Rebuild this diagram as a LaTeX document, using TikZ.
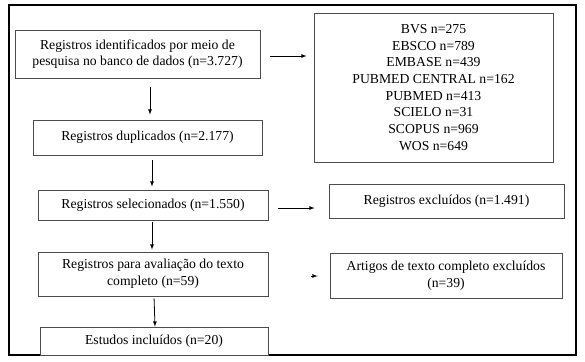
\documentclass[tikz,border=0pt]{standalone}
\usepackage{fontspec}
\setmainfont{Liberation Serif}
\usetikzlibrary{arrows}

\begin{document}
\begin{tikzpicture}[x=1pt,y=-1pt,>=latex,
	box/.style={draw=black!70,line width=0.8pt,fill=white,align=center,inner sep=2pt,font=\fontsize{13.7}{16.7}\selectfont}]
		% Frame
		\useasboundingbox (0,0) rectangle (585,361);
		\draw[line width=1.8pt] (9,5) rectangle (576,355);

		% Main column
		\node[box,minimum width=245pt,minimum height=48pt] (ident) at (137.5,54) {Registros identificados por meio de\\pesquisa no banco de dados (n=3.727)};
		\node[box,minimum width=229pt,minimum height=35pt] (dup) at (147.5,137.5) {Registros duplicados (n=2.177)};
		\node[box,minimum width=230pt,minimum height=30pt] (sel) at (153,205) {Registros selecionados (n=1.550)};
		\node[box,minimum width=230pt,minimum height=44pt] (aval) at (153,274) {Registros para avaliação do texto\\completo (n=59)};
		\node[box,minimum width=228pt,minimum height=28pt] (incl) at (154,341) {Estudos incluídos (n=20)};

		% Right column
		\node[box,minimum width=239pt,minimum height=149pt] (bases) at (433.5,87.5) {BVS n=275\\EBSCO n=789\\EMBASE n=439\\PUBMED CENTRAL n=162\\PUBMED n=413\\SCIELO n=31\\SCOPUS n=969\\WOS n=649};
		\node[box,minimum width=235pt,minimum height=34pt] (excl) at (446.5,201) {Registros excluídos (n=1.491)};
		\node[box,minimum width=232pt,minimum height=45pt] (artexcl) at (446,275.5) {Artigos de texto completo excluídos\\(n=39)};

		% Arrows down
		\draw[->,line width=0.8pt,shorten <=9pt,shorten >=5pt] (ident.south -| dup.north) ++(2.5,0) -- ([xshift=2.5pt]dup.north);
		\draw[->,line width=0.8pt,shorten <=5pt,shorten >=3pt] (dup.south -| sel.north) ++(-1,0) -- ([xshift=-1pt]sel.north);
		\draw[->,line width=0.8pt,shorten <=2pt,shorten >=2pt] ([xshift=-1pt]sel.south) -- ([xshift=-1pt]aval.north);
		\draw[->,line width=0.8pt,shorten <=2pt,shorten >=0pt] ([xshift=1pt]aval.south) -- ([xshift=1pt]incl.north);

		% Arrows right
		\draw[->,line width=0.8pt,shorten <=10pt,shorten >=7pt] ([yshift=-2pt]ident.east) -- ([yshift=-2pt]ident.east -| bases.west);
		\draw[->,line width=0.8pt,shorten <=10pt,shorten >=14pt] ([yshift=-3pt]sel.east) -- ([yshift=-3pt]sel.east -| excl.west);
		\draw[->,line width=0.8pt,shorten <=43pt,shorten >=12pt] ([yshift=-2pt]aval.east) -- ([yshift=-2pt]aval.east -| artexcl.west);
	\end{tikzpicture}
\end{document}
